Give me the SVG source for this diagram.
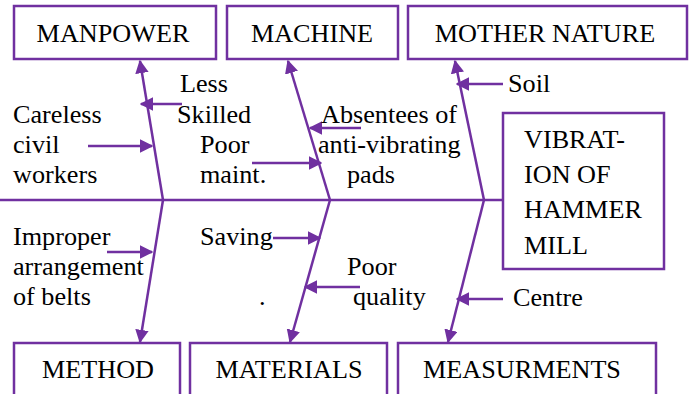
<svg xmlns="http://www.w3.org/2000/svg" width="689" height="394" viewBox="0 0 689 394">
<style>
.box{fill:#fff;stroke:#7030A0;stroke-width:2.5}
text{font-family:'Liberation Serif','Times New Roman',Tinos,'DejaVu Serif',serif;font-size:26.2px;fill:#000}
.c{text-anchor:middle}
.ln{stroke:#7030A0;stroke-width:2.5;fill:none}
.ar{stroke:#7030A0;stroke-width:2.5;fill:none;marker-end:url(#ah)}
</style>
<defs>
<marker id="ah" viewBox="0 0 10 10" refX="9" refY="5" markerWidth="5.4" markerHeight="5.4" markerUnits="strokeWidth" orient="auto">
<path d="M0,0L10,5L0,10Z" fill="#7030A0"/>
</marker>
</defs>
<rect width="689" height="394" fill="#fff"/>
<g id="connectors">
<line class="ln" x1="0" y1="200" x2="503" y2="200"/>
<polyline class="ar" points="163,200 140,61"/>
<polyline class="ar" points="163,200 140,342"/>
<polyline class="ar" points="330,200 288,61"/>
<polyline class="ar" points="330,200 290,342"/>
<polyline class="ar" points="484,200 455,61"/>
<polyline class="ar" points="484,200 448,342"/>
<line class="ar" x1="182" y1="104" x2="141" y2="104"/>
<line class="ar" x1="88" y1="146" x2="152" y2="146"/>
<line class="ar" x1="252" y1="163" x2="321" y2="163"/>
<line class="ar" x1="361" y1="128" x2="310" y2="128"/>
<line class="ar" x1="503" y1="84" x2="457" y2="84"/>
<line class="ar" x1="107" y1="252" x2="152" y2="252"/>
<line class="ar" x1="273" y1="238" x2="320" y2="238"/>
<line class="ar" x1="360" y1="287" x2="305" y2="287"/>
<line class="ar" x1="503" y1="299" x2="457" y2="299"/>
</g>
<g id="manpower"><rect class="box" x="14" y="6" width="202" height="53"/><text class="c" x="113" y="42">MANPOWER</text></g>
<g id="machine"><rect class="box" x="227" y="6" width="171" height="53"/><text class="c" x="312" y="42">MACHINE</text></g>
<g id="mother-nature"><rect class="box" x="408" y="6" width="279" height="53"/><text class="c" x="545" y="42">MOTHER NATURE</text></g>
<g id="effect"><rect class="box" x="503" y="113" width="161" height="156"/>
<text x="524" y="148">VIBRAT-</text><text x="524" y="183">ION OF</text><text x="524" y="218">HAMMER</text><text x="524" y="254">MILL</text></g>
<g id="method"><rect class="box" x="14" y="343" width="166" height="60"/><text class="c" x="98" y="378">METHOD</text></g>
<g id="materials"><rect class="box" x="190" y="343" width="197" height="60"/><text class="c" x="289" y="378">MATERIALS</text></g>
<g id="measurments"><rect class="box" x="398" y="343" width="258" height="60"/><text class="c" x="522" y="378">MEASURMENTS</text></g>
<g id="causes">
<text x="180" y="92">Less</text>
<text x="177" y="123">Skilled</text>
<text x="13" y="123">Careless</text>
<text x="13" y="153">civil</text>
<text x="13" y="183">workers</text>
<text x="200" y="153">Poor</text>
<text x="200" y="183">maint.</text>
<text x="321" y="123">Absentees of</text>
<text x="318" y="153">anti-vibrating</text>
<text x="347" y="183">pads</text>
<text x="508" y="92">Soil</text>
<text x="13" y="245">Improper</text>
<text x="13" y="275">arrangement</text>
<text x="13" y="305">of belts</text>
<text x="200" y="245">Saving</text>
<text x="347" y="275">Poor</text>
<text x="353" y="305">quality</text>
<text x="259" y="305">.</text>
<text x="513" y="306">Centre</text>
</g>
</svg>
